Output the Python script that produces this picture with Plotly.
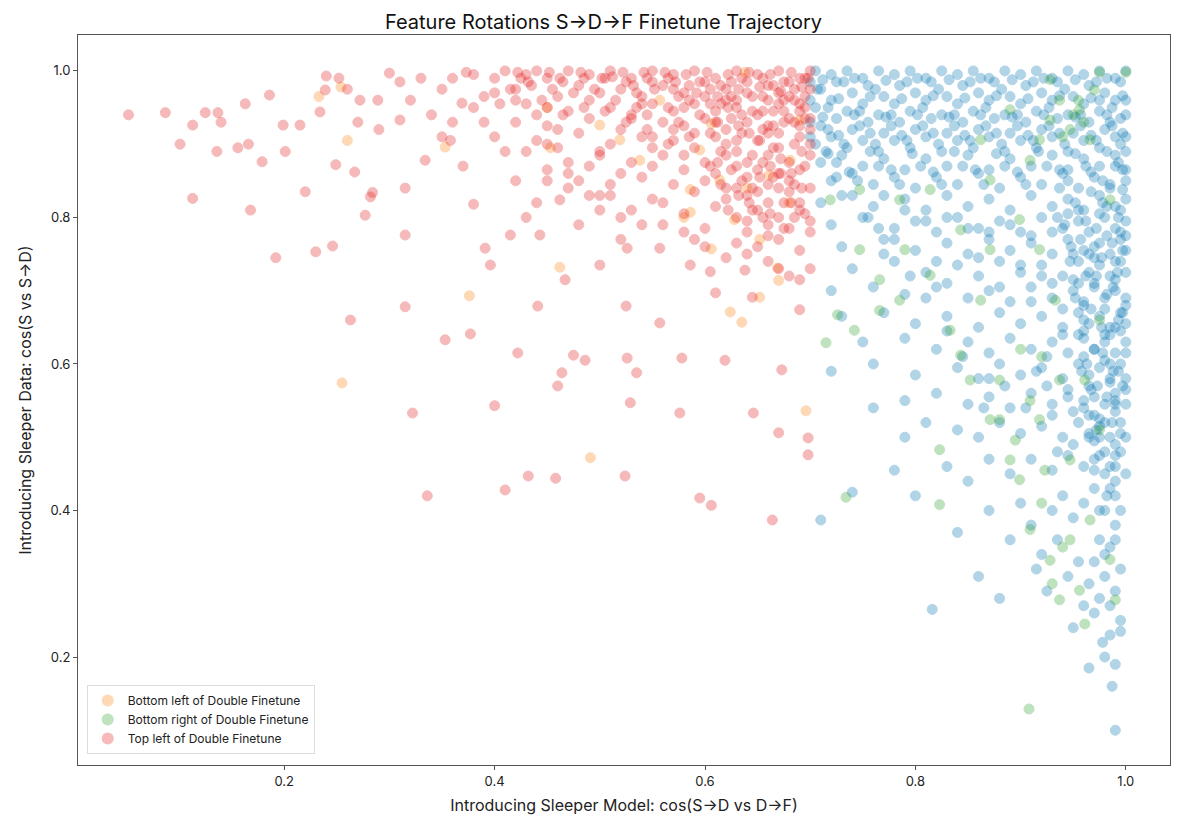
import plotly.graph_objects as go

def pairs(s):
    xs, ys = [], []
    for tok in s.split():
        a, b = tok.split(",")
        xs.append(float(a)); ys.append(float(b))
    return xs, ys

# Top left of Double Finetune (red)
red_pts = """
0.052,0.94 0.087,0.943 0.101,0.90 0.113,0.926 0.113,0.826 0.125,0.943 0.136,0.89 0.137,0.943 0.14,0.93
0.156,0.895 0.163,0.955 0.168,0.81 0.166,0.90 0.179,0.876 0.186,0.967 0.192,0.745 0.199,0.926 0.201,0.89
0.215,0.926 0.22,0.835 0.23,0.753 0.234,0.944 0.239,0.974 0.24,0.993 0.246,0.761 0.249,0.872 0.252,0.99
0.263,0.66 0.267,0.862 0.272,0.96 0.277,0.803 0.282,0.828 0.284,0.834 0.289,0.96 0.30,0.997 0.31,0.933
0.315,0.84 0.315,0.776 0.315,0.678 0.322,0.533 0.334,0.878 0.336,0.42 0.353,0.633 0.358,0.905 0.369,0.956
0.373,0.998 0.377,0.641 0.38,0.818 0.391,0.758 0.396,0.735 0.40,0.543 0.422,0.615 0.41,0.428 0.432,0.447
0.441,0.679 0.46,0.57 0.458,0.444 0.464,0.588 0.475,0.612 0.486,0.605 0.524,0.447 0.526,0.608 0.525,0.679
0.529,0.547 0.535,0.588 0.557,0.656 0.576,0.533 0.578,0.608 0.595,0.417 0.606,0.407 0.619,0.605 0.646,0.533
0.664,0.387 0.67,0.506 0.673,0.592 0.698,0.476 0.698,0.499 0.69,0.674 0.61,0.697 0.645,0.691 0.638,0.728
0.605,0.726 0.586,0.735 0.557,0.758 0.526,0.758 0.50,0.735 0.467,0.715 0.443,0.776 0.415,0.776 0.462,0.824 0.49,0.83
0.33,0.99 0.35,0.975 0.36,0.99 0.32,0.96 0.34,0.94 0.29,0.92 0.27,0.93 0.26,0.975 0.31,0.985 0.35,0.91
0.37,0.87 0.39,0.93 0.41,0.89 0.42,0.85 0.44,0.82 0.43,0.80 0.47,0.86 0.45,0.90 0.48,0.79 0.50,0.81 0.52,0.77
0.38,0.995 0.40,0.99 0.41,1.0 0.43,0.995 0.44,1.0 0.45,0.99 0.47,1.0 0.49,0.995 0.51,1.0 0.53,0.99 0.55,1.0
0.57,0.995 0.59,1.0 0.61,0.99 0.63,1.0 0.65,0.995 0.67,1.0 0.69,0.99 0.70,1.0 0.68,0.985 0.64,0.985 0.60,0.985
0.40,0.97 0.42,0.975 0.46,0.965 0.48,0.98 0.50,0.97 0.52,0.975 0.54,0.965 0.56,0.98 0.58,0.97 0.60,0.965
0.62,0.975 0.64,0.97 0.66,0.98 0.68,0.965 0.70,0.975 0.55,0.985 0.57,0.975 0.63,0.96 0.67,0.97 0.69,0.955
0.38,0.95 0.43,0.955 0.47,0.945 0.51,0.95 0.53,0.94 0.55,0.955 0.57,0.945 0.59,0.955 0.61,0.945 0.63,0.95
0.65,0.94 0.67,0.955 0.69,0.945 0.70,0.935 0.66,0.96 0.62,0.96 0.58,0.95 0.54,0.955 0.49,0.96 0.45,0.95
0.42,0.93 0.45,0.925 0.49,0.935 0.52,0.92 0.56,0.93 0.58,0.925 0.60,0.935 0.62,0.92 0.64,0.93 0.66,0.925
0.68,0.935 0.70,0.92 0.55,0.91 0.59,0.915 0.63,0.905 0.67,0.915 0.69,0.925 0.61,0.93 0.57,0.92 0.53,0.935
0.40,0.91 0.44,0.905 0.48,0.915 0.51,0.90 0.54,0.91 0.57,0.905 0.59,0.895 0.61,0.91 0.63,0.89 0.65,0.905
0.67,0.895 0.69,0.91 0.70,0.90 0.66,0.915 0.62,0.90 0.58,0.885 0.55,0.895 0.50,0.885 0.46,0.895
0.43,0.89 0.47,0.875 0.50,0.89 0.53,0.875 0.56,0.885 0.60,0.875 0.62,0.885 0.64,0.875 0.66,0.885 0.68,0.875
0.70,0.885 0.69,0.865 0.67,0.86 0.65,0.865 0.63,0.87 0.61,0.86 0.58,0.865 0.55,0.87 0.52,0.86 0.49,0.87 0.45,0.865
0.48,0.85 0.51,0.845 0.54,0.855 0.57,0.845 0.60,0.85 0.62,0.84 0.64,0.855 0.66,0.845 0.68,0.85 0.70,0.84
0.50,0.83 0.55,0.825 0.59,0.835 0.62,0.825 0.64,0.83 0.66,0.82 0.68,0.835 0.69,0.82 0.67,0.84 0.65,0.835 0.63,0.84
0.53,0.81 0.58,0.805 0.61,0.815 0.63,0.80 0.65,0.81 0.67,0.80 0.69,0.81 0.70,0.795 0.66,0.79 0.64,0.795
0.56,0.79 0.60,0.785 0.64,0.78 0.66,0.775 0.68,0.785 0.70,0.78 0.59,0.77 0.63,0.765 0.65,0.76 0.67,0.77 0.69,0.755
0.62,0.745 0.66,0.74 0.68,0.72 0.70,0.73 0.60,0.76 0.64,0.75 0.67,0.73 0.69,0.715 0.58,0.78 0.56,0.82
0.54,0.79 0.52,0.80 0.51,0.83 0.47,0.84 0.45,0.85 0.46,0.92 0.44,0.94 0.42,0.96 0.39,0.965 0.36,0.93
0.565,0.99 0.575,0.965 0.585,0.98 0.595,0.94 0.605,0.975 0.615,0.955 0.625,0.985 0.635,0.94 0.645,0.965 0.655,0.99
0.665,0.945 0.675,0.985 0.685,0.96 0.695,0.99 0.605,0.915 0.615,0.89 0.625,0.935 0.635,0.915 0.645,0.885
0.655,0.92 0.665,0.895 0.675,0.93 0.685,0.9 0.695,0.935 0.605,0.87 0.615,0.845 0.625,0.865 0.635,0.85
0.645,0.84 0.655,0.875 0.665,0.855 0.675,0.82 0.685,0.845 0.695,0.87 0.645,0.81 0.655,0.8 0.675,0.785 0.685,0.8
0.695,0.805 0.545,0.99 0.535,0.97 0.525,0.985 0.515,0.96 0.505,0.99 0.495,0.975 0.485,0.99 0.475,0.97
0.465,0.985 0.455,0.975 0.445,0.96 0.435,0.98 0.425,0.99 0.415,0.975 0.405,0.955 0.545,0.94 0.535,0.95
0.525,0.93 0.505,0.945 0.485,0.95 0.465,0.94 0.565,0.95 0.575,0.93 0.585,0.91 0.565,0.9 0.545,0.92
0.585,0.96 0.595,0.985 0.605,0.955 0.615,0.98 0.625,0.965 0.635,0.99 0.645,0.945 0.655,0.965 0.665,0.98
0.675,0.96 0.685,0.975 0.695,0.965 0.675,0.945 0.695,0.95 0.685,0.93 0.665,0.925 0.655,0.945
0.422,0.998 0.432,0.985 0.452,0.998 0.462,0.99 0.482,0.998 0.502,0.99 0.512,0.992 0.522,0.998 0.532,0.98
0.542,0.998 0.552,0.975 0.562,0.998 0.572,0.985 0.582,0.995 0.592,0.97 0.602,0.998 0.612,0.965 0.622,0.995
0.632,0.975 0.642,0.998 0.652,0.978 0.662,0.995 0.672,0.972 0.682,0.998 0.692,0.978 0.698,0.99
0.612,0.93 0.622,0.95 0.632,0.925 0.642,0.915 0.652,0.905 0.662,0.87 0.672,0.88 0.682,0.86 0.692,0.89
0.612,0.875 0.632,0.83 0.652,0.855 0.672,0.86 0.692,0.84 0.622,0.81 0.642,0.82 0.662,0.805 0.682,0.82
"""

# Bottom left of Double Finetune (orange)
orange_pts = """
0.254,0.978 0.233,0.965 0.255,0.574 0.353,0.896 0.376,0.693 0.462,0.732 0.491,0.472 0.453,0.895 0.606,0.757
0.624,0.671 0.635,0.657 0.652,0.691 0.669,0.731 0.67,0.714 0.696,0.536 0.586,0.838 0.628,0.797 0.652,0.77
0.661,0.858 0.595,0.892 0.538,0.878 0.586,0.807 0.519,0.906 0.557,0.96 0.638,0.998 0.50,0.926 0.614,0.851
0.681,0.878 0.69,0.933 0.606,0.928 0.26,0.905 0.45,0.95 0.58,0.80 0.64,0.84 0.68,0.82
"""

# Bottom right of Double Finetune (green)
green_pts = """
0.908,0.129 0.961,0.245 0.823,0.483 0.823,0.408 0.734,0.418 0.715,0.629 0.726,0.667 0.742,0.646 0.766,0.715
0.79,0.756 0.814,0.721 0.843,0.612 0.862,0.687 0.88,0.578 0.899,0.442 0.918,0.524 0.928,0.332 0.937,0.278
0.956,0.291 0.966,0.387 0.975,0.51 0.947,0.469 0.909,0.55 0.895,0.496 0.88,0.524 0.852,0.578 0.833,0.646
0.785,0.687 0.766,0.673 0.747,0.756 0.719,0.824 0.747,0.838 0.785,0.824 0.814,0.838 0.843,0.783 0.871,0.756
0.928,0.933 0.937,0.96 0.956,0.947 0.947,0.92 0.966,0.906 0.918,0.906 0.909,0.878 0.97,0.974 0.975,0.998
1.0,0.998 0.928,0.988 0.89,0.947 0.862,0.906 0.985,0.824 0.975,0.66 0.961,0.578 0.937,0.578 0.923,0.455
0.947,0.36 0.985,0.333 0.99,0.278 0.909,0.374 0.89,0.469 0.871,0.524 0.933,0.687 0.918,0.756 0.899,0.797
0.871,0.851 0.95,0.94 0.96,0.93 0.94,0.91 0.955,0.96 0.92,0.61 0.90,0.62 0.94,0.35 0.93,0.30 0.92,0.41
"""

# Other features (blue)
blue_pts = """
0.705,1.0 0.72,0.995 0.735,1.0 0.75,0.99 0.765,1.0 0.78,0.995 0.795,1.0 0.81,0.99 0.825,1.0 0.84,0.995
0.855,1.0 0.87,0.99 0.885,1.0 0.90,0.995 0.915,1.0 0.93,0.99 0.945,1.0 0.96,0.995 0.975,1.0 0.99,0.99 1.0,1.0
0.71,0.975 0.725,0.985 0.74,0.97 0.755,0.98 0.77,0.965 0.785,0.98 0.80,0.97 0.815,0.985 0.83,0.965 0.845,0.98
0.86,0.97 0.875,0.985 0.89,0.965 0.905,0.98 0.92,0.97 0.935,0.985 0.95,0.965 0.965,0.98 0.98,0.97 0.995,0.985 1.0,0.96
0.705,0.95 0.72,0.96 0.735,0.945 0.75,0.955 0.765,0.94 0.78,0.955 0.795,0.945 0.81,0.96 0.825,0.94 0.84,0.955
0.855,0.945 0.87,0.96 0.885,0.94 0.90,0.955 0.915,0.945 0.93,0.96 0.945,0.94 0.96,0.955 0.975,0.945 0.99,0.96 1.0,0.94
0.71,0.925 0.725,0.935 0.74,0.92 0.755,0.93 0.77,0.915 0.785,0.93 0.80,0.92 0.815,0.935 0.83,0.915 0.845,0.93
0.86,0.92 0.875,0.935 0.89,0.915 0.905,0.93 0.92,0.92 0.935,0.935 0.95,0.915 0.965,0.93 0.98,0.92 0.995,0.935 1.0,0.91
0.705,0.90 0.72,0.91 0.735,0.895 0.75,0.905 0.765,0.89 0.78,0.905 0.795,0.895 0.81,0.91 0.825,0.89 0.84,0.905
0.855,0.895 0.87,0.91 0.885,0.89 0.90,0.905 0.915,0.895 0.93,0.91 0.945,0.89 0.96,0.905 0.975,0.895 0.99,0.91 1.0,0.89
0.71,0.875 0.73,0.885 0.75,0.87 0.77,0.88 0.79,0.865 0.81,0.88 0.83,0.87 0.85,0.885 0.87,0.865 0.89,0.88
0.91,0.87 0.93,0.885 0.945,0.865 0.96,0.88 0.975,0.87 0.99,0.885 1.0,0.865
0.72,0.85 0.74,0.86 0.76,0.845 0.78,0.855 0.80,0.84 0.82,0.855 0.84,0.845 0.86,0.86 0.88,0.84 0.90,0.855
0.92,0.845 0.94,0.86 0.955,0.84 0.97,0.855 0.985,0.845 1.0,0.85
0.71,0.82 0.73,0.83 0.76,0.815 0.79,0.825 0.81,0.81 0.83,0.83 0.85,0.815 0.87,0.825 0.89,0.81 0.91,0.83
0.93,0.815 0.945,0.825 0.96,0.81 0.975,0.83 0.99,0.815 1.0,0.825
0.72,0.79 0.75,0.80 0.78,0.785 0.80,0.795 0.82,0.78 0.84,0.80 0.86,0.785 0.88,0.795 0.90,0.78 0.92,0.80
0.94,0.785 0.955,0.795 0.965,0.78 0.98,0.80 0.99,0.785 1.0,0.795
0.73,0.76 0.77,0.77 0.80,0.755 0.83,0.765 0.85,0.75 0.87,0.77 0.89,0.755 0.91,0.765 0.93,0.75 0.945,0.77
0.96,0.755 0.975,0.765 0.985,0.75 0.995,0.77 1.0,0.755
0.74,0.73 0.78,0.74 0.81,0.725 0.84,0.735 0.86,0.72 0.88,0.74 0.90,0.725 0.92,0.735 0.94,0.72 0.955,0.74
0.965,0.725 0.975,0.735 0.985,0.72 0.995,0.74 1.0,0.725
0.72,0.70 0.76,0.705 0.79,0.695 0.82,0.705 0.85,0.69 0.87,0.70 0.89,0.685 0.91,0.705 0.93,0.69 0.95,0.70
0.96,0.685 0.97,0.705 0.98,0.69 0.99,0.70 1.0,0.69
0.73,0.665 0.77,0.67 0.80,0.655 0.83,0.665 0.86,0.65 0.88,0.67 0.90,0.655 0.92,0.665 0.94,0.65 0.955,0.67
0.965,0.655 0.975,0.665 0.985,0.65 0.995,0.67 1.0,0.655
0.75,0.63 0.79,0.635 0.82,0.62 0.85,0.63 0.87,0.615 0.89,0.635 0.91,0.62 0.93,0.63 0.945,0.615 0.96,0.635
0.97,0.62 0.98,0.63 0.99,0.615 1.0,0.63
0.72,0.59 0.76,0.60 0.80,0.585 0.84,0.595 0.86,0.58 0.88,0.60 0.90,0.585 0.92,0.595 0.94,0.58 0.955,0.60
0.965,0.585 0.975,0.595 0.985,0.58 0.995,0.60
0.76,0.54 0.79,0.55 0.82,0.56 0.85,0.545 0.87,0.555 0.89,0.54 0.91,0.56 0.93,0.545 0.945,0.555 0.96,0.54
0.97,0.555 0.98,0.545 0.99,0.56 1.0,0.545
0.79,0.50 0.81,0.52 0.84,0.51 0.86,0.50 0.88,0.52 0.90,0.505 0.92,0.515 0.94,0.50 0.955,0.52 0.965,0.505
0.975,0.515 0.985,0.50 0.995,0.52
0.71,0.387 0.74,0.425 0.78,0.455 0.80,0.42 0.83,0.46 0.85,0.44 0.87,0.47 0.89,0.45 0.91,0.47 0.93,0.455
0.945,0.475 0.96,0.46 0.97,0.47 0.98,0.45 0.99,0.475
0.816,0.265 0.84,0.37 0.86,0.31 0.88,0.28 0.87,0.40 0.89,0.36 0.90,0.41 0.91,0.38 0.92,0.34 0.93,0.40
0.94,0.42 0.95,0.39 0.96,0.41 0.97,0.43 0.98,0.40 0.99,0.42 0.915,0.32 0.935,0.36 0.955,0.33 0.975,0.36
0.985,0.35 0.925,0.29 0.945,0.31 0.965,0.30 0.98,0.31 0.99,0.29 0.95,0.24 0.97,0.26 0.985,0.23 0.995,0.235
0.965,0.185 0.98,0.20 0.99,0.19 0.987,0.16 0.99,0.10 0.975,0.28 0.96,0.27
0.935,0.48 0.95,0.49 0.97,0.495 0.99,0.49 1.0,0.50 0.925,0.57 0.945,0.565 0.965,0.57 0.985,0.575 1.0,0.58
0.93,0.71 0.95,0.715 0.97,0.71 0.99,0.715 0.935,0.80 0.955,0.81 0.975,0.805 0.995,0.81 0.94,0.64 0.96,0.645
0.98,0.64 0.995,0.645 0.95,0.75 0.97,0.745 0.99,0.74 0.96,0.68 0.98,0.675 1.0,0.68 0.96,0.61 0.98,0.605
0.93,0.53 0.95,0.535 0.97,0.53 0.99,0.535 0.975,0.96 0.985,0.93 0.995,0.90 0.99,0.87 0.985,0.84 0.995,0.78
0.97,0.76 0.99,0.65 0.985,0.60 0.99,0.55 0.98,0.52 0.995,0.48 0.985,0.46 0.99,0.44 0.975,0.50 0.965,0.53
0.712,0.988 0.727,0.962 0.742,0.99 0.757,0.965 0.772,0.987 0.787,0.962 0.802,0.99 0.817,0.966 0.832,0.988
0.847,0.963 0.862,0.99 0.877,0.966 0.892,0.988 0.907,0.962 0.922,0.99 0.937,0.966 0.952,0.988 0.967,0.963
0.982,0.99 0.997,0.966 0.712,0.937 0.727,0.912 0.742,0.94 0.757,0.915 0.772,0.937 0.787,0.912 0.802,0.94
0.817,0.915 0.832,0.937 0.847,0.912 0.862,0.94 0.877,0.915 0.892,0.937 0.907,0.912 0.922,0.94 0.937,0.915
0.952,0.937 0.967,0.912 0.982,0.94 0.997,0.915 0.717,0.887 0.737,0.862 0.757,0.89 0.777,0.865 0.797,0.887
0.817,0.862 0.837,0.89 0.857,0.865 0.877,0.887 0.897,0.862 0.917,0.89 0.937,0.865 0.952,0.887 0.967,0.862
0.982,0.89 0.997,0.865 0.937,0.84 0.952,0.82 0.967,0.835 0.982,0.815 0.997,0.838 0.942,0.79 0.957,0.77
0.972,0.785 0.987,0.765 1.0,0.775 0.947,0.74 0.962,0.72 0.977,0.745 0.992,0.725 0.952,0.69 0.967,0.675
0.982,0.695 0.997,0.67 0.955,0.64 0.97,0.62 0.985,0.64 1.0,0.615 0.958,0.59 0.973,0.57 0.988,0.59 1.0,0.565
0.96,0.55 0.975,0.525 0.99,0.545 0.965,0.50 0.98,0.48 0.995,0.505 0.97,0.455 0.985,0.43 1.0,0.45
0.975,0.40 0.99,0.38 0.98,0.34 0.995,0.32 0.97,0.33 0.985,0.27 0.995,0.25 0.978,0.22
0.70,0.985 0.70,0.96 0.70,0.93 0.70,0.91 0.715,0.89 0.725,0.855 0.74,0.83 0.755,0.80 0.765,0.785 0.77,0.75
0.795,0.72 0.81,0.69 0.83,0.645 0.845,0.61 0.87,0.58 0.865,0.54 0.885,0.57 0.905,0.54 0.915,0.59 0.925,0.61
0.707,0.975 0.717,0.95 0.732,0.985 0.747,0.945 0.762,0.975 0.777,0.94 0.792,0.985 0.807,0.95 0.822,0.975
0.837,0.94 0.852,0.985 0.867,0.95 0.882,0.975 0.897,0.94 0.912,0.985 0.927,0.95 0.942,0.975 0.957,0.94
0.972,0.985 0.987,0.95 0.717,0.92 0.732,0.9 0.747,0.925 0.762,0.9 0.777,0.925 0.792,0.905 0.807,0.925
0.822,0.9 0.837,0.925 0.852,0.905 0.867,0.925 0.882,0.9 0.897,0.925 0.912,0.905 0.927,0.925 0.942,0.9
0.957,0.925 0.972,0.905 0.987,0.925 0.725,0.875 0.745,0.85 0.765,0.87 0.785,0.845 0.805,0.87 0.825,0.845
0.845,0.87 0.865,0.845 0.885,0.87 0.905,0.845 0.925,0.87 0.945,0.85 0.962,0.87 0.978,0.85 0.993,0.875
0.945,0.805 0.962,0.795 0.978,0.82 0.993,0.8 0.948,0.76 0.965,0.75 0.982,0.775 0.997,0.755 0.955,0.71
0.972,0.72 0.988,0.705 0.96,0.66 0.977,0.65 0.993,0.66 0.963,0.6 0.978,0.615 0.993,0.59 0.967,0.565
0.982,0.555 0.997,0.57 0.972,0.51 0.987,0.52 0.975,0.475 0.99,0.46 0.982,0.42 0.995,0.4 0.99,0.36
0.77,0.83 0.79,0.81 0.81,0.795 0.83,0.80 0.85,0.785 0.87,0.78 0.89,0.79 0.91,0.775 0.93,0.78
0.78,0.77 0.82,0.74 0.86,0.745 0.90,0.735 0.92,0.72 0.83,0.71 0.88,0.705 0.91,0.685 0.94,0.675
"""

labels = ["Bottom left of Double Finetune", "Bottom right of Double Finetune", "Top left of Double Finetune"]

bx, by = pairs(blue_pts)
ox, oy = pairs(orange_pts)
gx, gy = pairs(green_pts)
rx, ry = pairs(red_pts)

fig = go.Figure()

def add(x, y, color, name):
    fig.add_trace(go.Scatter(
        x=x, y=y, mode="markers", name=name, showlegend=False,
        marker=dict(size=10, color=color, opacity=0.3, line=dict(width=1, color=color)),
    ))

add(bx, by, "#0072B2", "Other")
add(gx, gy, "#2CA02C", labels[1])
add(ox, oy, "#FF7F0E", labels[0])
add(rx, ry, "#E41A1C", labels[2])
for c, n in [("#FF7F0E", labels[0]), ("#2CA02C", labels[1]), ("#E41A1C", labels[2])]:
    fig.add_trace(go.Scatter(x=[None], y=[None], mode="markers", name=n, showlegend=True,
                             marker=dict(size=10, color=c, opacity=0.3)))

axis = dict(showgrid=False, zeroline=False, showline=True, linecolor="#555", linewidth=1,
            mirror=True, ticks="outside", ticklen=4, tickcolor="#555", automargin=False,
            tickfont=dict(size=13, color="#222"))

fig.update_layout(
    width=1191, height=828,
    margin=dict(l=70, r=29, t=27, b=71),
    plot_bgcolor="white", paper_bgcolor="white",
    font=dict(family="Inter", color="#222"),
    title=dict(text="Feature Rotations S→D→F Finetune Trajectory", x=0.5, xanchor="center",
               y=0.983, yanchor="middle", automargin=False, font=dict(size=20, color="#111")),
    xaxis=dict(axis, range=[0.004, 1.042], tickvals=[0.2, 0.4, 0.6, 0.8, 1.0],
               ticktext=["0.2", "0.4", "0.6", "0.8", "1.0"],
               title=dict(text="Introducing Sleeper Model: cos(S→D vs D→F)", font=dict(size=16), standoff=12)),
    yaxis=dict(axis, range=[0.0526, 1.049], tickvals=[0.2, 0.4, 0.6, 0.8, 1.0],
               ticktext=["0.2", "0.4", "0.6", "0.8", "1.0"],
               title=dict(text="Introducing Sleeper Data: cos(S vs S→D)", font=dict(size=16), standoff=14)),
    legend=dict(x=0.008, y=0.015, xanchor="left", yanchor="bottom", bgcolor="white",
                bordercolor="#ddd", borderwidth=1, font=dict(size=12, color="#222"),
                itemsizing="constant", tracegroupgap=2),
)

fig.write_html("out.html")
